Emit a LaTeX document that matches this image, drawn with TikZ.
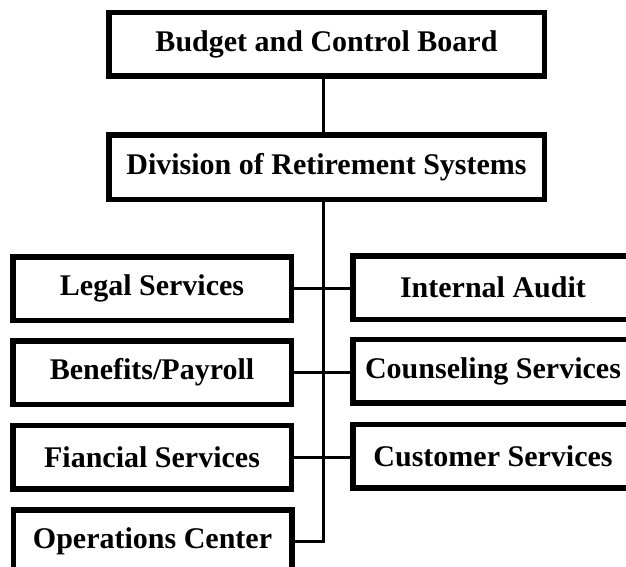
\documentclass[tikz,border=0pt]{standalone}
\usepackage{fontspec}
\setmainfont{Liberation Serif}
\begin{document}
\begin{tikzpicture}[x=1pt,y=1pt,
  orgbox/.style={draw=black, line width=5.5pt, fill=white, inner sep=0pt,
    minimum height=63.5pt, font=\fontsize{30}{30}\selectfont\bfseries},
  wide/.style={minimum width=435.5pt},
  leftcol/.style={minimum width=278.5pt},
  rightcol/.style={minimum width=280.5pt},
  link/.style={draw=black, line width=3pt}]
\useasboundingbox (0,0) rectangle (626,-567);
\clip (0,0) rectangle (626,-567);

% top of the hierarchy
\node[orgbox, wide] (board) at (326.5,-44.5) {Budget and Control Board};
\node[orgbox, wide, minimum height=64.5pt] (drs) at (326.5,-167) {Division of Retirement Systems};

% left column
\node[orgbox, leftcol] (legal)     at (152,-288.5) {Legal Services};
\node[orgbox, leftcol] (benefits)  at (152,-372.5) {Benefits/Payroll};
\node[orgbox, leftcol] (financial) at (152,-457)   {Fiancial Services};
\node[orgbox, leftcol] (ops)       at (152.5,-541.5) {Operations Center};

% right column
\node[orgbox, rightcol] (audit)      at (493,-287.5) {Internal Audit};
\node[orgbox, rightcol] (counseling) at (493,-371)   {Counseling Services};
\node[orgbox, rightcol] (customer)   at (493,-456)   {Customer Services};

% trunk line
\coordinate (trunk) at (323,0);
\draw[link] (board.south -| trunk) -- (drs.north -| trunk);
\draw[link] (drs.south -| trunk) |- (ops.east);

% branches
\draw[link] (legal.east) -- (legal.east -| audit.west);
\draw[link] (benefits.east) -- (benefits.east -| counseling.west);
\draw[link] (financial.east) -- (financial.east -| customer.west);
\end{tikzpicture}
\end{document}
